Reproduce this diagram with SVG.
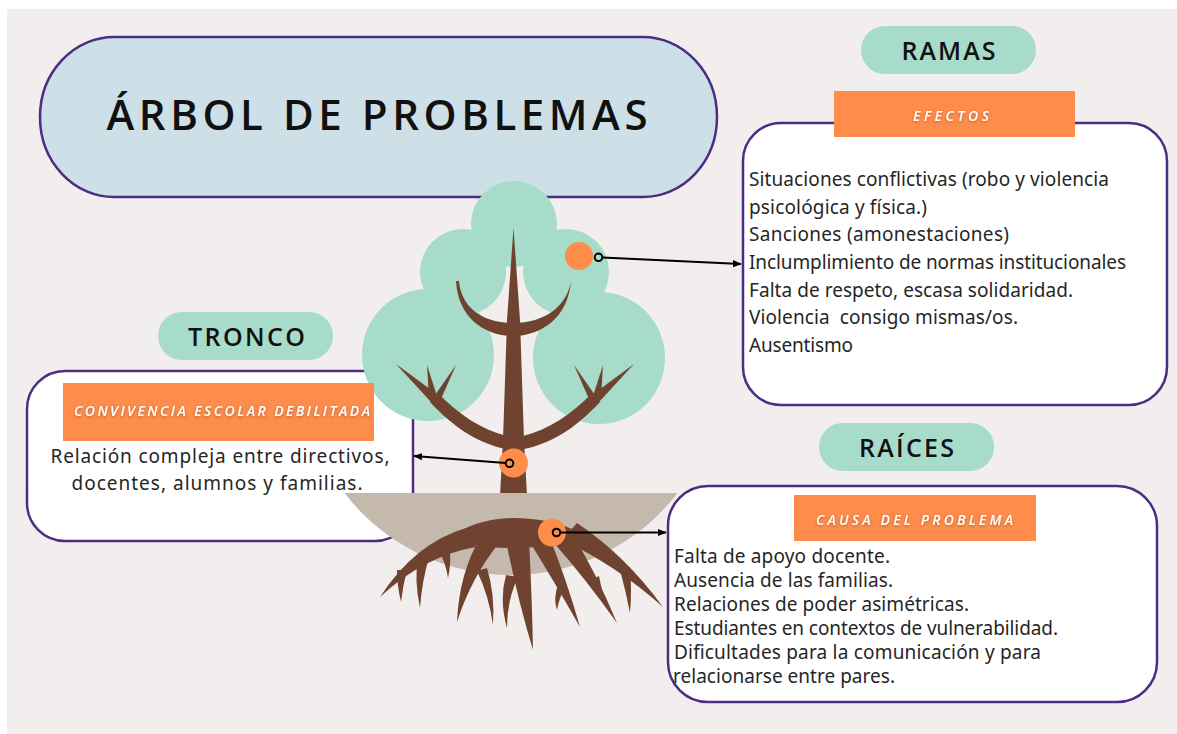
<svg xmlns="http://www.w3.org/2000/svg" width="1177" height="734" viewBox="0 0 1177 734">
<style>
.bx{fill:#fff;stroke:#4b2e83;stroke-width:2.5}
.pill{fill:#a6dcc9}
.hdr{fill:#fe8c4a}
.pt{font-family:"Open Sans","Liberation Sans",sans-serif;font-weight:600;font-size:25px;fill:#111;text-anchor:middle}
.ht{font-family:"Open Sans","Liberation Sans",sans-serif;font-style:italic;font-weight:600;font-size:14px;fill:#fff;text-anchor:middle}
.body{font-family:"Noto Sans","Liberation Sans",sans-serif;font-size:19px;fill:#262626}
.leaf{fill:#a6dcc9}
.br{fill:#704330}
.dot{fill:#fe8c4a}
.con{stroke:#000;stroke-width:2;fill:none}
.ring{fill:none;stroke:#000;stroke-width:2}
</style>
<defs>
<marker id="ah" viewBox="0 0 10 10" refX="9" refY="5" markerWidth="9" markerHeight="9" markerUnits="userSpaceOnUse" orient="auto"><path d="M0,1 L10,5 L0,9 Z" fill="#000"/></marker>
<filter id="sh" x="-10%" y="-50%" width="120%" height="200%"><feDropShadow dx="0" dy="1" stdDeviation="1.5" flood-color="#000" flood-opacity="0.3"/></filter>
</defs>
<rect x="0" y="0" width="1177" height="734" fill="#fff"/>
<rect x="7" y="9" width="1170" height="725" fill="#f2eeed"/>

<g id="title">
<rect x="40" y="37" width="677" height="160" rx="74" ry="80" fill="#cde0e8" stroke="#4b2e83" stroke-width="2.5"/>
<text x="377" y="130" font-family="'Open Sans','Liberation Sans',sans-serif" font-weight="600" font-size="42" fill="#111" text-anchor="middle" textLength="541" lengthAdjust="spacing">ÁRBOL DE PROBLEMAS</text>
</g>

<g id="tronco-box">
<rect class="bx" x="27" y="371" width="386" height="170" rx="38"/>
</g>

<g id="tree">
<g id="foliage">
<circle class="leaf" cx="514" cy="224" r="43"/>
<circle class="leaf" cx="463" cy="272" r="43"/>
<circle class="leaf" cx="566" cy="272" r="43"/>
<circle class="leaf" cx="428" cy="355" r="66"/>
<circle class="leaf" cx="599" cy="358" r="66"/>
</g>
<g id="trunk">
<path class="br" d="M513.5,228 L520,320 L524,440 L527,496 L500,496 L503,440 L507,320 Z"/>
<path class="br" d="M456,281 C458,318 485,336 513,336 C541,336 568,318 571,281 C567,306 545,323 513,323 C481,323 461,306 459,281 Z"/>
<g id="limb-left">
<path class="br" d="M506,449 C480,444 455,429 430,402 L438,393 C458,414 482,430 507,436 Z"/>
<path class="br" d="M431,402 L396,364 L438,395 Z"/>
<path class="br" d="M429,398 L427,365 L437,396 Z"/>
<path class="br" d="M433,398 L456,365 L441,399 Z"/>
</g>
<g transform="translate(1030,0) scale(-1,1)">
<path class="br" d="M506,449 C480,444 455,429 430,402 L438,393 C458,414 482,430 507,436 Z"/>
<path class="br" d="M431,402 L396,364 L438,395 Z"/>
<path class="br" d="M429,398 L427,365 L437,396 Z"/>
<path class="br" d="M433,398 L456,365 L441,399 Z"/>
</g>
</g>
</g>

<g id="tronco-label">
<rect class="hdr" x="63" y="383" width="311" height="58"/>
<text class="ht" x="222" y="416" font-size="13" textLength="296" lengthAdjust="spacing" filter="url(#sh)">CONVIVENCIA ESCOLAR DEBILITADA</text>
<text class="body" x="220" y="463" text-anchor="middle" textLength="339" lengthAdjust="spacing">Relación compleja entre directivos,</text>
<text class="body" x="217" y="490" text-anchor="middle" textLength="291" lengthAdjust="spacing">docentes, alumnos y familias.</text>
</g>

<g id="soil">
<path d="M344.5,493 A210,210 0 0 0 677.5,493 Z" fill="#c5b9ae"/>
</g>

<g id="roots">
<path class="br" d="M452,538 Q470,520 512,518 Q552,518 578,532 Q560,548 515,548 Q470,548 452,538 Z"/>
<path class="br" d="M466,528 Q415,543 380,597 Q424,556 476,547 Z"/>
<path class="br" d="M397,570 Q397,585 401,602 Q403,585 407,570 Z"/>
<path class="br" d="M418,556 Q414,580 420,608 Q422,580 430,554 Z"/>
<path class="br" d="M441,555 Q446,565 448,578 Q451,565 450,552 Z"/>
<path class="br" d="M481,536 Q459,573 457,622 Q471,578 499,543 Z"/>
<path class="br" d="M477,571 Q489,596 493,625 Q495,594 487,568 Z"/>
<path class="br" d="M506,541 Q518,601 533,650 Q532,599 529,539 Z"/>
<path class="br" d="M506,575 Q499,600 507,628 Q507,600 518,577 Z"/>
<path class="br" d="M531,544 Q555,583 580,627 Q566,578 549,536 Z"/>
<path class="br" d="M558,585 Q553,598 557,610 Q559,598 566,585 Z"/>
<path class="br" d="M554,543 Q585,578 617,623 Q596,572 571,532 Z"/>
<path class="br" d="M591,580 Q599,590 603,600 Q602,588 599,576 Z"/>
<path class="br" d="M562,540 Q616,565 663,607 Q625,555 577,523 Z"/>
<path class="br" d="M620,570 Q626,592 630,613 Q632,590 630,567 Z"/>
</g>

<g id="tronco-pill">
<rect class="pill" x="158" y="312" width="175" height="48" rx="24"/>
<text class="pt" x="246.5" y="345.5" textLength="117" lengthAdjust="spacing">TRONCO</text>
</g>

<g id="ramas">
<rect class="pill" x="861" y="26" width="175" height="48" rx="24"/>
<text class="pt" x="948.5" y="60" textLength="94" lengthAdjust="spacing">RAMAS</text>
</g>

<g id="efectos">
<rect class="bx" x="743" y="123" width="424" height="282" rx="38"/>
<rect class="hdr" x="834" y="91" width="241" height="46"/>
<text class="ht" x="951" y="120.5" font-size="15" textLength="76" lengthAdjust="spacing" filter="url(#sh)">EFECTOS</text>
<text class="body" x="749" y="186" textLength="360" lengthAdjust="spacing">Situaciones conflictivas (robo y violencia</text>
<text class="body" x="749" y="213.5" textLength="178" lengthAdjust="spacing">psicológica y física.)</text>
<text class="body" x="749" y="241" textLength="260" lengthAdjust="spacing">Sanciones (amonestaciones)</text>
<text class="body" x="749" y="269" textLength="377" lengthAdjust="spacing">Inclumplimiento de normas institucionales</text>
<text class="body" x="749" y="296.5" textLength="324" lengthAdjust="spacing">Falta de respeto, escasa solidaridad.</text>
<text class="body" x="749" y="324" textLength="269" lengthAdjust="spacing" xml:space="preserve">Violencia  consigo mismas/os.</text>
<text class="body" x="749" y="352" textLength="104" lengthAdjust="spacing">Ausentismo</text>
</g>

<g id="raices">
<rect class="pill" x="819" y="423" width="175" height="48" rx="24"/>
<text class="pt" x="906.5" y="456.5" textLength="95" lengthAdjust="spacing">RAÍCES</text>
</g>

<g id="causa">
<rect class="bx" x="668" y="486" width="489" height="216" rx="40"/>
<rect class="hdr" x="794" y="495" width="242" height="46"/>
<text class="ht" x="914.5" y="524.5" font-size="14" textLength="197" lengthAdjust="spacing" filter="url(#sh)">CAUSA DEL PROBLEMA</text>
<text class="body" x="674" y="562.5" font-size="18.5" textLength="216" lengthAdjust="spacing">Falta de apoyo docente.</text>
<text class="body" x="674" y="586.5" font-size="18.5" textLength="219" lengthAdjust="spacing">Ausencia de las familias.</text>
<text class="body" x="674" y="611" font-size="18.5" textLength="295" lengthAdjust="spacing">Relaciones de poder asimétricas.</text>
<text class="body" x="674" y="635" font-size="18.5" textLength="384" lengthAdjust="spacing">Estudiantes en contextos de vulnerabilidad.</text>
<text class="body" x="674" y="659" font-size="18.5" textLength="367" lengthAdjust="spacing">Dificultades para la comunicación y para</text>
<text class="body" x="673" y="683" font-size="18.5" textLength="222" lengthAdjust="spacing">relacionarse entre pares.</text>
</g>

<g id="dots">
<circle class="dot" cx="579" cy="256" r="14"/>
<circle class="dot" cx="513.5" cy="463" r="14.5"/>
<circle class="dot" cx="552" cy="532.5" r="14"/>
</g>

<g id="connectors">
<circle class="ring" cx="598.5" cy="257.3" r="3.8"/>
<path class="con" d="M602.3,257.5 L741,264" marker-end="url(#ah)"/>
<circle class="ring" cx="509.5" cy="463.3" r="3.8"/>
<path class="con" d="M505.7,463 L414,456" marker-end="url(#ah)"/>
<circle class="ring" cx="556.5" cy="532.5" r="3.8"/>
<path class="con" d="M560.3,532.5 L666,532.5" marker-end="url(#ah)"/>
</g>
</svg>
